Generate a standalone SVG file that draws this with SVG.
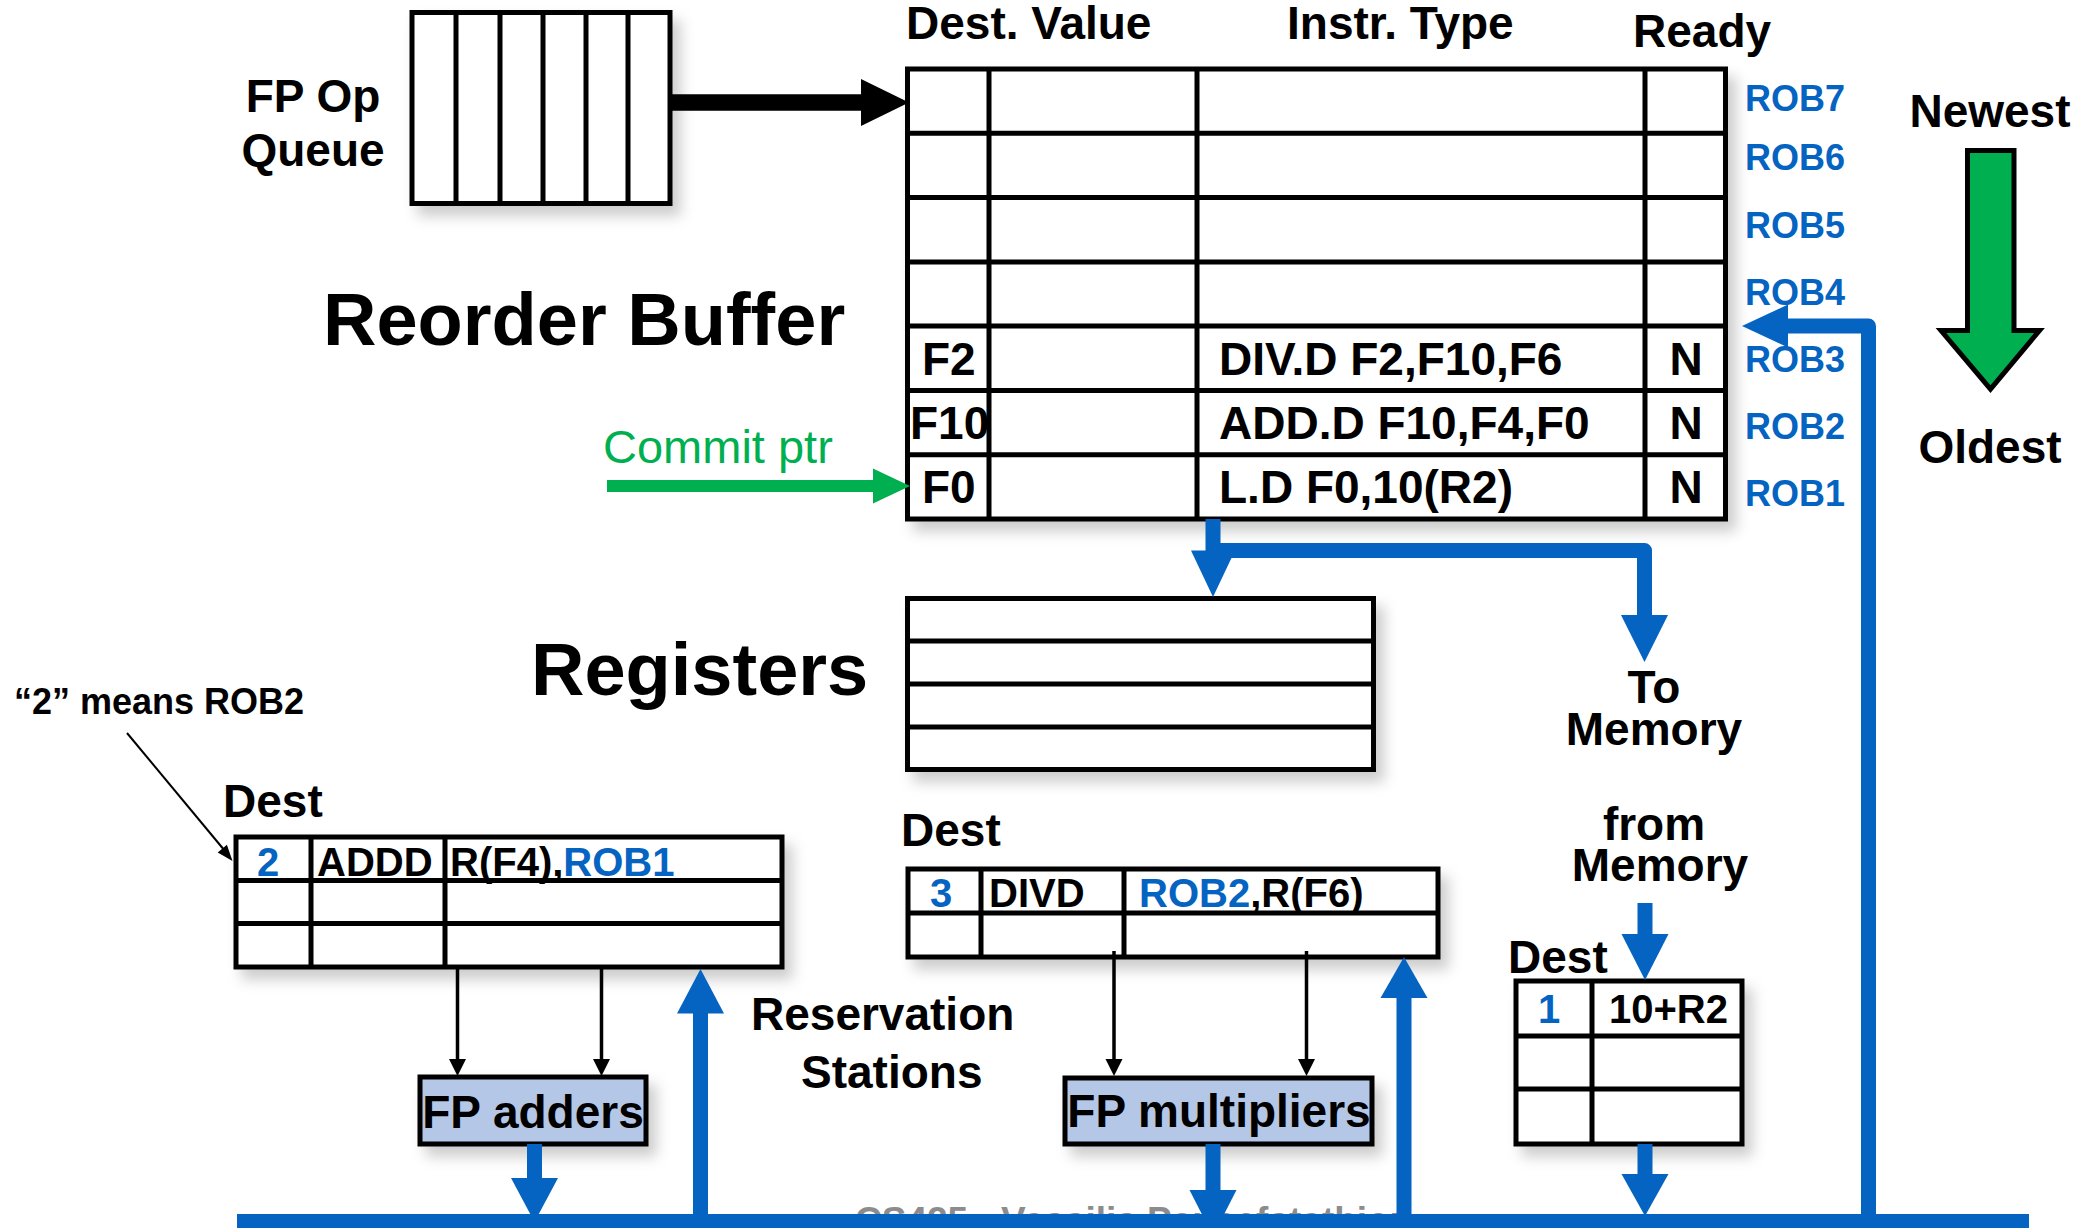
<svg xmlns="http://www.w3.org/2000/svg" width="2093" height="1228" viewBox="0 0 2093 1228">
<defs>
<style>
text{font-family:"Liberation Sans",Arial,Helvetica,sans-serif;font-weight:bold;fill:#000}
.blue{fill:#0563C1}
.grn{fill:#00B050}
.box{fill:#fff;stroke:#000;stroke-width:5}
.fu{fill:#B4C7E7;stroke:#000;stroke-width:5}
.ln{stroke:#000;stroke-width:5;fill:none}
.bl{stroke:#0563C1;stroke-width:15;fill:none;stroke-linejoin:round}
.bh{fill:#0563C1}
.thin{stroke:#000;stroke-width:3.5;fill:none}
.h1{font-size:46px}
.big{font-size:74px}
.rob{font-size:36px;fill:#0563C1}
.rs{font-size:40px}
</style>
<filter id="sh" x="-10%" y="-10%" width="130%" height="150%">
<feDropShadow dx="8" dy="10" stdDeviation="7" flood-color="#000" flood-opacity="0.2"/>
</filter>
</defs>
<rect width="2093" height="1228" fill="#fff"/>

<text x="855" y="1233" style="font-size:37px;fill:#8c8c8c">CS425 - Vassilis Papaefstathiou</text>

<g id="fp-op-queue">
<rect class="box" x="412" y="12.5" width="258" height="191" filter="url(#sh)"/>
<path class="ln" d="M456,12.5V203.5M500,12.5V203.5M543,12.5V203.5M586,12.5V203.5M628,12.5V203.5"/>
<text class="h1" text-anchor="middle"><tspan x="313" y="112">FP Op</tspan><tspan x="313" y="166">Queue</tspan></text>
</g>

<g id="reorder-buffer">
<text class="big" x="323" y="345">Reorder Buffer</text>
<text class="h1" x="906" y="39">Dest. Value</text>
<text class="h1" x="1287" y="39">Instr. Type</text>
<text class="h1" x="1633" y="47">Ready</text>
<rect class="box" x="907.5" y="69" width="818" height="450" filter="url(#sh)"/>
<path class="ln" d="M907.5,133.3H1725.5M907.5,197.6H1725.5M907.5,261.9H1725.5M907.5,326.1H1725.5M907.5,390.4H1725.5M907.5,454.7H1725.5M989,69V519M1197,69V519M1645,69V519"/>
<text class="h1" x="922" y="375">F2</text>
<text class="h1" x="1219" y="375">DIV.D F2,F10,F6</text>
<text class="h1" x="1686" y="375" text-anchor="middle">N</text>
<text class="h1" x="910" y="439">F10</text>
<text class="h1" x="1219" y="439">ADD.D F10,F4,F0</text>
<text class="h1" x="1686" y="439" text-anchor="middle">N</text>
<text class="h1" x="922" y="503">F0</text>
<text class="h1" x="1219" y="503">L.D F0,10(R2)</text>
<text class="h1" x="1686" y="503" text-anchor="middle">N</text>
<text class="rob" x="1745" y="111">ROB7</text>
<text class="rob" x="1745" y="170">ROB6</text>
<text class="rob" x="1745" y="238">ROB5</text>
<text class="rob" x="1745" y="305">ROB4</text>
<text class="rob" x="1745" y="372">ROB3</text>
<text class="rob" x="1745" y="439">ROB2</text>
<text class="rob" x="1745" y="506">ROB1</text>
</g>

<g id="age-arrow">
<text class="h1" x="1990" y="127" text-anchor="middle">Newest</text>
<polygon points="1967.5,150.5 2014,150.5 2014,330.5 2039.5,330.5 1990.5,389 1941,330.5 1967.5,330.5" fill="#00B050" stroke="#000" stroke-width="5"/>
<text class="h1" x="1990" y="463" text-anchor="middle">Oldest</text>
</g>

<g id="commit-ptr">
<text x="603" y="463" style="font-size:47px;font-weight:normal;fill:#00B050">Commit ptr</text>
</g>

<g id="registers">
<text class="big" x="531" y="695">Registers</text>
<rect class="box" x="907.5" y="598.5" width="466" height="171" filter="url(#sh)"/>
<path class="ln" d="M907.5,641H1373.5M907.5,684H1373.5M907.5,727H1373.5"/>
</g>

<g id="to-memory">
<text class="h1" text-anchor="middle"><tspan x="1654" y="703">To</tspan><tspan x="1654" y="745">Memory</tspan></text>
</g>

<g id="from-memory">
<text class="h1" text-anchor="middle"><tspan x="1654" y="840">from</tspan><tspan x="1660" y="881">Memory</tspan></text>
</g>

<g id="note">
<text x="14" y="714" style="font-size:36px">“2” means ROB2</text>
</g>

<g id="rs-adders">
<text class="h1" x="223" y="817">Dest</text>
<rect class="box" x="236" y="837" width="546" height="130" filter="url(#sh)"/>
<path class="ln" d="M236,880.5H782M236,923.5H782M311,837V967M445,837V967"/>
<text class="rs blue" x="257" y="876">2</text>
<text class="rs" x="317" y="876">ADDD</text>
<text class="rs" x="450" y="876">R(F4),<tspan class="blue">ROB1</tspan></text>
</g>

<g id="rs-label">
<text class="h1"><tspan x="751" y="1030">Reservation</tspan><tspan x="801" y="1088">Stations</tspan></text>
</g>

<g id="rs-multipliers">
<text class="h1" x="901" y="846">Dest</text>
<rect class="box" x="908" y="869" width="530" height="88" filter="url(#sh)"/>
<path class="ln" d="M908,913H1438M981,869V957M1124,869V957"/>
<text class="rs blue" x="930" y="907">3</text>
<text class="rs" x="989" y="907">DIVD</text>
<text class="rs" x="1139" y="907"><tspan class="blue">ROB2</tspan>,R(F6)</text>
</g>

<g id="load-buffer">
<text class="h1" x="1508" y="973">Dest</text>
<rect class="box" x="1516" y="981" width="226" height="163" filter="url(#sh)"/>
<path class="ln" d="M1516,1036H1742M1516,1089H1742M1592,981V1144"/>
<text class="rs blue" x="1538" y="1023">1</text>
<text class="rs" x="1609" y="1023">10+R2</text>
</g>

<g id="fp-adders">
<rect class="fu" x="420" y="1077" width="226" height="67" filter="url(#sh)"/>
<text class="h1" x="533" y="1128" text-anchor="middle">FP adders</text>
</g>

<g id="fp-multipliers">
<rect class="fu" x="1065" y="1078" width="307" height="66" filter="url(#sh)"/>
<text class="h1" x="1219" y="1127" text-anchor="middle">FP multipliers</text>
</g>

<g id="connectors">
<path d="M670,102.5H864" stroke="#000" stroke-width="16.5"/>
<polygon points="861,79 861,126 909,102.5" fill="#000"/>
<path d="M607,486H876" stroke="#00B050" stroke-width="12"/>
<polygon points="873,468.5 873,503.5 910,486" fill="#00B050"/>
<path class="bl" d="M1213,519V553"/>
<polygon class="bh" points="1191,550.5 1235,550.5 1213,597"/>
<path class="bl" d="M1213,550.5H1644.5V617"/>
<polygon class="bh" points="1621,615 1668,615 1644.5,662"/>
<path class="bl" d="M1645,903V936"/>
<polygon class="bh" points="1621.5,934 1668.5,934 1645,980"/>
<path class="bl" d="M1645,1144V1176"/>
<polygon class="bh" points="1621.5,1174 1668.5,1174 1645,1216"/>
<path class="bl" d="M534.5,1144V1180"/>
<polygon class="bh" points="511,1178 558,1178 534.5,1222"/>
<path class="bl" d="M1213,1144V1192"/>
<polygon class="bh" points="1189.5,1190 1236.5,1190 1213,1236"/>
<path class="bl" d="M700.5,1216V1011"/>
<polygon class="bh" points="677,1013.5 724,1013.5 700.5,969"/>
<path class="bl" d="M1404,1216V996"/>
<polygon class="bh" points="1380.5,998 1427.5,998 1404,957"/>
<path class="bl" d="M1868.5,1216V326H1785"/>
<polygon class="bh" points="1788,304.5 1788,347.5 1742,326"/>
<rect x="237" y="1214" width="1792" height="20" fill="#0563C1"/>
<path class="thin" d="M457.5,967V1061M601.5,967V1061M1114,951V1061M1306.5,951V1061"/>
<polygon points="449,1059 466,1059 457.5,1076" fill="#000"/>
<polygon points="593,1059 610,1059 601.5,1076" fill="#000"/>
<polygon points="1105.5,1059 1122.5,1059 1114,1076" fill="#000"/>
<polygon points="1298,1059 1315,1059 1306.5,1076" fill="#000"/>
<path d="M127,733L225,851" stroke="#000" stroke-width="2"/>
<polygon points="217.7,852.4 226.9,844.8 232.5,861" fill="#000"/>
</g>
</svg>
